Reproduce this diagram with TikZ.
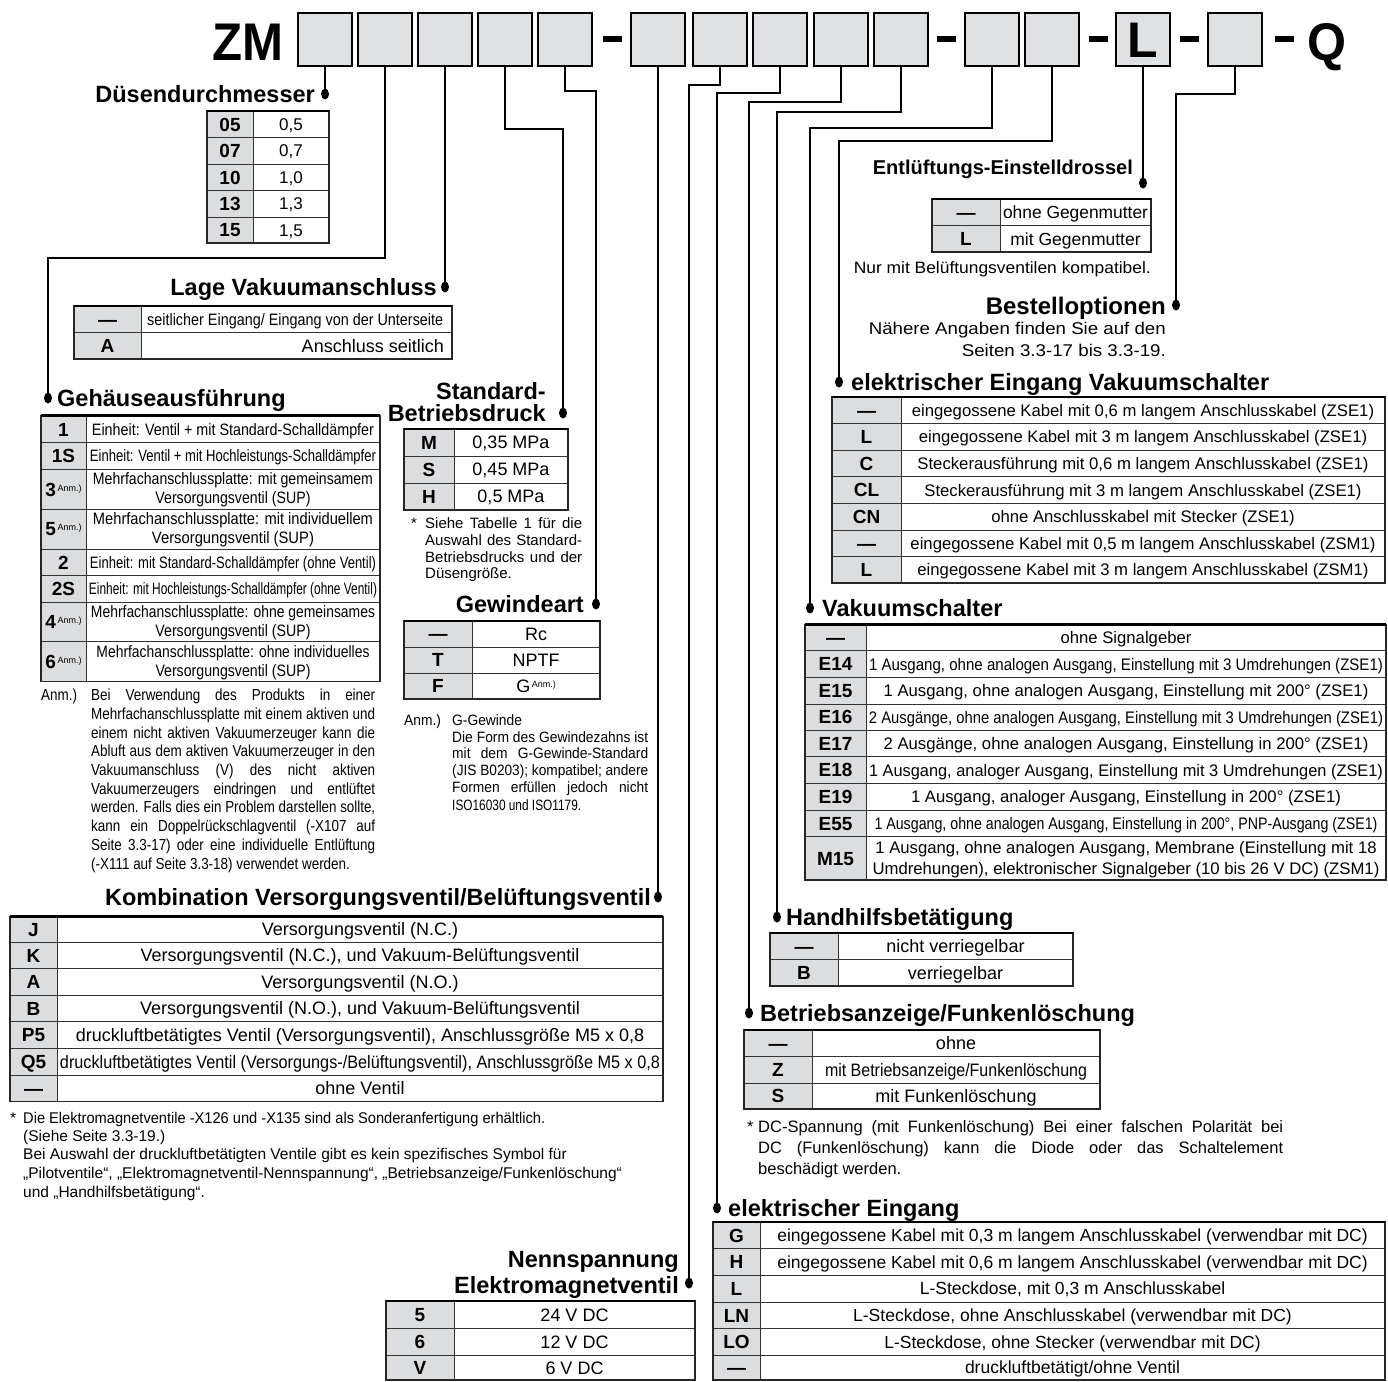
\documentclass[tikz,border=0pt]{standalone}
\usepackage{fontspec}
\setmainfont{Liberation Sans}
\newfontfamily\condf[FakeStretch=0.84]{Liberation Sans}
\newfontfamily\semif[FakeStretch=0.92]{Liberation Sans}
\usepackage{graphicx}
\usetikzlibrary{shapes.geometric}
\definecolor{keyfill}{HTML}{DCDDDF}
\definecolor{boxgray}{HTML}{E0E1E3}
\newcommand\fs[1]{\fontsize{#1}{#1}\selectfont}
\newcommand\vfs{17}
\newcommand\kfs{19}
\newcommand\nfs{15}
\newcommand\nff{}
\newcommand\fitw[2]{\setbox0=\hbox{#2}\ifdim\wd0>#1pt\relax\resizebox{#1pt}{\height}{#2}\else\box0\fi}
\newcommand\exw[2]{\resizebox{#1pt}{\height}{#2}}
\newcommand\jline[2]{\setbox0=\hbox{#2}\ifdim\wd0>#1pt\relax\resizebox{#1pt}{\height}{#2}\else\makebox[#1pt][s]{#2}\fi}
\newcommand\anm{{\fs{9}\mdseries\,\raisebox{5pt}{Anm.)}}}
\newcommand\twol[3]{\begin{tabular}{@{}c@{}}#1\\[#3]#2\end{tabular}}
\tikzset{
  conn/.style={line width=2pt, draw=black},
  hbox/.style={draw=black, line width=2pt, fill=boxgray, minimum width=54pt, minimum height=53pt, inner sep=0pt},
  dotn/.style={ellipse, fill=black, minimum width=8pt, minimum height=11pt, inner sep=0pt},
  head/.style={font=\fs{23.5}\bfseries, inner sep=0pt},
  keyt/.style={font=\fs{\kfs}\bfseries, inner sep=0pt, anchor=base},
  valt/.style={font=\fs{\vfs}, inner sep=0pt, anchor=base},
  notet/.style={font=\fs{\nfs}\nff, inner sep=0pt, anchor=base west},
  outer/.style={line width=1.5pt, draw=black!85},
  inner/.style={line width=0.9pt, draw=black!80},
  topl/.style={line width=2.6pt, draw=black},
}
% name, x1, xk, x2, ytop, ybot, key, value
\newcommand\trow[8]{%
  \fill[keyfill] (#2,#5) rectangle (#3,#6);
  \draw[inner] (#2,#5) -- (#4,#5);
  \node[keyt] (#1k) at ({(#2+#3)/2},{(#5+#6)/2+0.36*\kfs}) {#7};
  \pgfmathsetmacro\cw{#4-#3-6}%
  \node[valt] (#1v) at ({(#3+#4)/2},{(#5+#6)/2+0.36*\vfs}) {\fitw{\cw}{#8}};
}
% x1, xk, x2, ytop, ybot
\newcommand\tframe[5]{%
  \draw[outer] (#1,#4) rectangle (#3,#5);
  \draw[inner] (#2,#4) -- (#2,#5);
  \draw[topl] (#1,#4) -- (#3,#4);
}
% name, x, y(center), width, text  (justified line)
\newcommand\nline[5]{\node[notet] (#1) at (#2,{#3+0.36*\nfs}) {\jline{#4}{#5}};}
\newcommand\nlast[4]{\node[notet] (#1) at (#2,{#3+0.36*\nfs}) {#4};}
\newcommand\headE[4]{\node[head, anchor=base east] (#1) at (#2,{#3+8.5}) {#4};}
\newcommand\headW[4]{\node[head, anchor=base west] (#1) at (#2,{#3+8.5}) {#4};}

\begin{document}
\begin{tikzpicture}[x=1pt,y=-1pt]
\useasboundingbox (0,0) rectangle (1388,1381);

% ---------------- header ----------------
\node[anchor=base west, inner sep=0pt, font=\fs{53}\bfseries] (zm) at (212,60) {\exw{71}{ZM}};
\foreach \n/\x in {1/325,2/385,3/445,4/505,5/565,6/658,7/719.5,8/780,9/840.5,10/901,11/992,12/1052,13/1143,14/1235}
  \node[hbox] (b\n) at (\x,39.3) {};
\node[font=\fs{50}\bfseries, inner sep=0pt, anchor=base] (lt) at (1143,57) {L};
\node[font=\fs{53}\bfseries, inner sep=0pt, anchor=base west] (qt) at (1307,60) {\exw{39}{Q}};
\foreach \x in {612,946.5,1098,1189,1284}
  \fill (\x-9.5,36) rectangle (\x+9.5,42);

% ---------------- dots ----------------
\node[dotn] (d1) at (325,94) {};
\node[dotn] (d2) at (48,398) {};
\node[dotn] (d3) at (445,287) {};
\node[dotn] (d4) at (563,413) {};
\node[dotn] (d5) at (596,604) {};
\node[dotn] (d6) at (658,897) {};
\node[dotn] (d7) at (689,1283) {};
\node[dotn] (d8) at (717,1208) {};
\node[dotn] (d9) at (749,1013) {};
\node[dotn] (d10) at (777,917) {};
\node[dotn] (d11) at (810,608) {};
\node[dotn] (d12) at (839,382) {};
\node[dotn] (d13) at (1143,183) {};
\node[dotn] (d14) at (1176,305) {};

% ---------------- connectors ----------------
\coordinate (k2) at (48,258);
\coordinate (k4) at (563,129);
\coordinate (k5) at (596,91);
\coordinate (k7) at (689,85);
\coordinate (k8) at (717,93);
\coordinate (k9) at (749,102);
\coordinate (k10) at (777,112);
\coordinate (k11) at (810,128);
\coordinate (k12) at (839,141);
\coordinate (k14) at (1176,94);
\draw[conn] (b1.south) -- (d1.center);
\draw[conn] (b2.south) |- (k2) -- (d2.center);
\draw[conn] (b3.south) -- (d3.center);
\draw[conn] (b4.south) |- (k4) -- (d4.center);
\draw[conn] (b5.south) |- (k5) -- (d5.center);
\draw[conn] (b6.south) -- (d6.center);
\draw[conn] (b7.south) |- (k7) -- (d7.center);
\draw[conn] (b8.south) |- (k8) -- (d8.center);
\draw[conn] (b9.south) |- (k9) -- (d9.center);
\draw[conn] (b10.south) |- (k10) -- (d10.center);
\draw[conn] (b11.south) |- (k11) -- (d11.center);
\draw[conn] (b12.south) |- (k12) -- (d12.center);
\draw[conn] (b13.south) -- (d13.center);
\draw[conn] (b14.south) |- (k14) -- (d14.center);

% ---------------- Duesendurchmesser ----------------
\headE{h1}{315}{94}{Düsendurchmesser}
\renewcommand\vfs{17}
\trow{du1}{207}{253}{329}{111}{137.5}{05}{0,5}
\trow{du2}{207}{253}{329}{137.5}{164}{07}{0,7}
\trow{du3}{207}{253}{329}{164}{190.5}{10}{1,0}
\trow{du4}{207}{253}{329}{190.5}{217}{13}{1,3}
\trow{du5}{207}{253}{329}{217}{243}{15}{1,5}
\tframe{207}{253}{329}{111}{243}

% ---------------- Lage Vakuumanschluss ----------------
\headE{h3}{437}{287}{Lage Vakuumanschluss}
\trow{la1}{74}{141}{452}{306}{332.5}{—}{}
\trow{la2}{74}{141}{452}{332.5}{359}{A}{}
\node[valt, anchor=base west] (la1t) at (147,{319.2+6}) {\fs{16.5}\condf\exw{296}{seitlicher Eingang/ Eingang von der Unterseite}};
\node[valt, anchor=base east] (la2t) at (444,{345.7+6.5}) {\fs{18}Anschluss seitlich};
\tframe{74}{141}{452}{306}{359}

% ---------------- Gehaeuseausfuehrung ----------------
\headW{h2}{57}{398}{Gehäuseausführung}
\renewcommand\vfs{16.5}
\trow{ge1}{41}{86}{380}{415.7}{442.7}{1}{\exw{282}{Einheit: Ventil + mit Standard-Schalldämpfer}}
\trow{ge2}{41}{86}{380}{442.7}{469.3}{1S}{\exw{286}{Einheit: Ventil + mit Hochleistungs-Schalldämpfer}}
\trow{ge3}{41}{86}{380}{469.3}{509.3}{3\anm}{\twol{\exw{280}{Mehrfachanschlussplatte: mit gemeinsamem}}{\exw{155}{Versorgungsventil (SUP)}}{2pt}}
\trow{ge4}{41}{86}{380}{509.3}{549}{5\anm}{\twol{\exw{280}{Mehrfachanschlussplatte: mit individuellem}}{\exw{162}{Versorgungsventil (SUP)}}{2pt}}
\trow{ge5}{41}{86}{380}{549}{575.7}{2}{\exw{286}{Einheit: mit Standard-Schalldämpfer (ohne Ventil)}}
\trow{ge6}{41}{86}{380}{575.7}{602.3}{2S}{\exw{288}{Einheit: mit Hochleistungs-Schalldämpfer (ohne Ventil)}}
\trow{ge7}{41}{86}{380}{602.3}{641.7}{4\anm}{\twol{\exw{284}{Mehrfachanschlussplatte: ohne gemeinsames}}{\exw{155}{Versorgungsventil (SUP)}}{2pt}}
\trow{ge8}{41}{86}{380}{641.7}{681.7}{6\anm}{\twol{\exw{273}{Mehrfachanschlussplatte: ohne individuelles}}{\exw{155}{Versorgungsventil (SUP)}}{2pt}}
\tframe{41}{86}{380}{415.7}{681.7}
\renewcommand\nfs{16}
\renewcommand\nff{\condf}
\nlast{gn0}{41}{695}{Anm.)}
\nline{gn1}{91}{695}{284}{Bei Verwendung des Produkts in einer}
\nline{gn2}{91}{713.7}{284}{Mehrfachanschlussplatte mit einem aktiven und}
\nline{gn3}{91}{732.4}{284}{einem nicht aktiven Vakuumerzeuger kann die}
\nline{gn4}{91}{751.1}{284}{Abluft aus dem aktiven Vakuumerzeuger in den}
\nline{gn5}{91}{769.8}{284}{Vakuumanschluss (V) des nicht aktiven}
\nline{gn6}{91}{788.5}{284}{Vakuumerzeugers eindringen und entlüftet}
\nline{gn7}{91}{807.2}{284}{werden. Falls dies ein Problem darstellen sollte,}
\nline{gn8}{91}{825.9}{284}{kann ein Doppelrückschlagventil (-X107 auf}
\nline{gn9}{91}{844.6}{284}{Seite 3.3-17) oder eine individuelle Entlüftung}
\nlast{gn10}{91}{863.3}{(-X111 auf Seite 3.3-18) verwendet werden.}

% ---------------- Standard-Betriebsdruck ----------------
\headE{h4a}{546}{391}{Standard-}
\headE{h4b}{546}{413}{Betriebsdruck}
\renewcommand\vfs{18}
\trow{sb1}{404}{454}{568}{429}{456}{M}{0,35 MPa}
\trow{sb2}{404}{454}{568}{456}{483}{S}{0,45 MPa}
\trow{sb3}{404}{454}{568}{483}{510}{H}{0,5 MPa}
\tframe{404}{454}{568}{429}{510}
\renewcommand\nfs{15}
\renewcommand\nff{}
\nlast{sn0}{411}{523}{*}
\nline{sn1}{425}{523}{157}{Siehe Tabelle 1 für die}
\nline{sn2}{425}{540}{157}{Auswahl des Standard-}
\nline{sn3}{425}{557}{157}{Betriebsdrucks und der}
\nlast{sn4}{425}{573}{Düsengröße.}

% ---------------- Gewindeart ----------------
\headE{h5}{584}{604}{Gewindeart}
\trow{gw1}{404}{472}{600}{621}{647}{—}{Rc}
\trow{gw2}{404}{472}{600}{647}{673}{T}{NPTF}
\trow{gw3}{404}{472}{600}{673}{699}{F}{G\anm}
\tframe{404}{472}{600}{621}{699}
\renewcommand\nfs{15}
\renewcommand\nff{\semif}
\nlast{wn0}{404}{720}{Anm.)}
\nlast{wn1}{452}{720}{G-Gewinde}
\nline{wn2}{452}{737}{196}{Die Form des Gewindezahns ist}
\nline{wn3}{452}{753.5}{196}{mit dem G-Gewinde-Standard}
\nline{wn4}{452}{770.5}{196}{(JIS B0203); kompatibel; andere}
\nline{wn5}{452}{787}{196}{Formen erfüllen jedoch nicht}
\nlast{wn6}{452}{805}{\fitw{129}{ISO16030 und ISO1179.}}

% ---------------- Kombination ----------------
\headE{h6}{651}{897}{Kombination Versorgungsventil/Belüftungsventil}
\renewcommand\vfs{18}
\trow{ko1}{10}{57}{663}{916.7}{942.3}{J}{Versorgungsventil (N.C.)}
\trow{ko2}{10}{57}{663}{942.3}{968.3}{K}{Versorgungsventil (N.C.), und Vakuum-Belüftungsventil}
\trow{ko3}{10}{57}{663}{968.3}{995}{A}{Versorgungsventil (N.O.)}
\trow{ko4}{10}{57}{663}{995}{1021.7}{B}{Versorgungsventil (N.O.), und Vakuum-Belüftungsventil}
\trow{ko5}{10}{57}{663}{1021.7}{1048.3}{P5}{druckluftbetätigtes Ventil (Versorgungsventil), Anschlussgröße M5 x 0,8}
\trow{ko6}{10}{57}{663}{1048.3}{1075}{Q5}{druckluftbetätigtes Ventil (Versorgungs-/Belüftungsventil), Anschlussgröße M5 x 0,8}
\trow{ko7}{10}{57}{663}{1075}{1101.7}{—}{ohne Ventil}
\tframe{10}{57}{663}{916.7}{1101.7}
\renewcommand\nfs{15.5}
\renewcommand\nff{}
\nlast{kn0}{10}{1118}{*}
\nlast{kn1}{23}{1118}{\fitw{522}{Die Elektromagnetventile -X126 und -X135 sind als Sonderanfertigung erhältlich.}}
\nlast{kn2}{23}{1136}{(Siehe Seite 3.3-19.)}
\nlast{kn3}{23}{1154}{\fitw{564}{Bei Auswahl der druckluftbetätigten Ventile gibt es kein spezifisches Symbol für}}
\nlast{kn4}{23}{1173}{\fitw{616}{„Pilotventile“, „Elektromagnetventil-Nennspannung“, „Betriebsanzeige/Funkenlöschung“}}
\nlast{kn5}{23}{1192}{und „Handhilfsbetätigung“.}

% ---------------- Nennspannung ----------------
\headE{h7a}{679}{1259}{Nennspannung}
\headE{h7b}{679}{1285}{Elektromagnetventil}
\renewcommand\vfs{18}
\trow{ns1}{386}{454}{695}{1301}{1328}{5}{24 V DC}
\trow{ns2}{386}{454}{695}{1328}{1355}{6}{12 V DC}
\trow{ns3}{386}{454}{695}{1355}{1380}{V}{6 V DC}
\tframe{386}{454}{695}{1301}{1380}

% ---------------- Entlueftungs-Einstelldrossel ----------------
\node[font=\fs{20}\bfseries, inner sep=0pt, anchor=base east] (h13) at (1133,{167+7.2}) {Entlüftungs-Einstelldrossel};
\renewcommand\vfs{17.5}
\trow{en1}{932}{1000}{1151}{199}{225.5}{—}{ohne Gegenmutter}
\trow{en2}{932}{1000}{1151}{225.5}{252}{L}{mit Gegenmutter}
\tframe{932}{1000}{1151}{199}{252}
\node[valt, anchor=base east] (enn) at (1151,{267+6}) {\fs{16.5}\exw{297}{Nur mit Belüftungsventilen kompatibel.}};

% ---------------- Bestelloptionen ----------------
\node[font=\fs{24}\bfseries, inner sep=0pt, anchor=base east] (h14) at (1166,{306+8.6}) {Bestelloptionen};
\node[valt, anchor=base east] (bo1) at (1166,{328+6.1}) {\fs{17}\exw{297}{Nähere Angaben finden Sie auf den}};
\node[valt, anchor=base east] (bo2) at (1166,{350+6.1}) {\fs{17}\exw{204}{Seiten 3.3-17 bis 3.3-19.}};

% ---------------- elektrischer Eingang Vakuumschalter ----------------
\headW{h12}{851}{382}{elektrischer Eingang Vakuumschalter}
\renewcommand\vfs{16.7}
\trow{ev1}{832}{901}{1385}{397}{423.6}{—}{eingegossene Kabel mit 0,6 m langem Anschlusskabel (ZSE1)}
\trow{ev2}{832}{901}{1385}{423.6}{450.2}{L}{eingegossene Kabel mit 3 m langem Anschlusskabel (ZSE1)}
\trow{ev3}{832}{901}{1385}{450.2}{476.8}{C}{Steckerausführung mit 0,6 m langem Anschlusskabel (ZSE1)}
\trow{ev4}{832}{901}{1385}{476.8}{503.4}{CL}{Steckerausführung mit 3 m langem Anschlusskabel (ZSE1)}
\trow{ev5}{832}{901}{1385}{503.4}{530}{CN}{ohne Anschlusskabel mit Stecker (ZSE1)}
\trow{ev6}{832}{901}{1385}{530}{556.6}{—}{eingegossene Kabel mit 0,5 m langem Anschlusskabel (ZSM1)}
\trow{ev7}{832}{901}{1385}{556.6}{583.2}{L}{eingegossene Kabel mit 3 m langem Anschlusskabel (ZSM1)}
\tframe{832}{901}{1385}{397}{583.2}

% ---------------- Vakuumschalter ----------------
\headW{h11}{822}{608}{Vakuumschalter}
\renewcommand\vfs{16.7}
\trow{vs1}{805}{866}{1386}{624.3}{650.7}{—}{ohne Signalgeber}
\trow{vs2}{805}{866}{1386}{650.7}{677.3}{E14}{\exw{516}{1 Ausgang, ohne analogen Ausgang, Einstellung mit 3 Umdrehungen (ZSE1)}}
\trow{vs3}{805}{866}{1386}{677.3}{704}{E15}{1 Ausgang, ohne analogen Ausgang, Einstellung mit 200° (ZSE1)}
\trow{vs4}{805}{866}{1386}{704}{730}{E16}{\exw{516}{2 Ausgänge, ohne analogen Ausgang, Einstellung mit 3 Umdrehungen (ZSE1)}}
\trow{vs5}{805}{866}{1386}{730}{756.7}{E17}{2 Ausgänge, ohne analogen Ausgang, Einstellung in 200° (ZSE1)}
\trow{vs6}{805}{866}{1386}{756.7}{783.3}{E18}{1 Ausgang, analoger Ausgang, Einstellung mit 3 Umdrehungen (ZSE1)}
\trow{vs7}{805}{866}{1386}{783.3}{810}{E19}{1 Ausgang, analoger Ausgang, Einstellung in 200° (ZSE1)}
\trow{vs8}{805}{866}{1386}{810}{836.7}{E55}{\exw{503}{1 Ausgang, ohne analogen Ausgang, Einstellung in 200°, PNP-Ausgang (ZSE1)}}
\trow{vs9}{805}{866}{1386}{836.7}{880}{M15}{\twol{1 Ausgang, ohne analogen Ausgang, Membrane (Einstellung mit 18}{Umdrehungen), elektronischer Signalgeber (10 bis 26 V DC) (ZSM1)}{4pt}}
\tframe{805}{866}{1386}{624.3}{880}

% ---------------- Handhilfsbetaetigung ----------------
\headW{h10}{786}{917}{Handhilfsbetätigung}
\renewcommand\vfs{18}
\trow{hh1}{770}{838}{1073}{933}{959.5}{—}{nicht verriegelbar}
\trow{hh2}{770}{838}{1073}{959.5}{986}{B}{verriegelbar}
\tframe{770}{838}{1073}{933}{986}

% ---------------- Betriebsanzeige ----------------
\headW{h9}{760}{1013}{Betriebsanzeige/Funkenlöschung}
\trow{ba1}{744}{812}{1100}{1030}{1056.5}{—}{ohne}
\trow{ba2}{744}{812}{1100}{1056.5}{1083}{Z}{\exw{262}{mit Betriebsanzeige/Funkenlöschung}}
\trow{ba3}{744}{812}{1100}{1083}{1109}{S}{mit Funkenlöschung}
\tframe{744}{812}{1100}{1030}{1109}
\renewcommand\nfs{16.5}
\renewcommand\nff{}
\nlast{bn0}{747}{1127}{*}
\nline{bn1}{758}{1127}{525}{DC-Spannung (mit Funkenlöschung) Bei einer falschen Polarität bei}
\nline{bn2}{758}{1148}{525}{DC (Funkenlöschung) kann die Diode oder das Schaltelement}
\nlast{bn3}{758}{1169}{beschädigt werden.}

% ---------------- elektrischer Eingang ----------------
\headW{h8}{728}{1208}{elektrischer Eingang}
\renewcommand\vfs{17.5}
\trow{ee1}{713}{760}{1385}{1222}{1248.7}{G}{eingegossene Kabel mit 0,3 m langem Anschlusskabel (verwendbar mit DC)}
\trow{ee2}{713}{760}{1385}{1248.7}{1275.3}{H}{eingegossene Kabel mit 0,6 m langem Anschlusskabel (verwendbar mit DC)}
\trow{ee3}{713}{760}{1385}{1275.3}{1302}{L}{L-Steckdose, mit 0,3 m Anschlusskabel}
\trow{ee4}{713}{760}{1385}{1302}{1328.7}{LN}{L-Steckdose, ohne Anschlusskabel (verwendbar mit DC)}
\trow{ee5}{713}{760}{1385}{1328.7}{1355.3}{LO}{L-Steckdose, ohne Stecker (verwendbar mit DC)}
\trow{ee6}{713}{760}{1385}{1355.3}{1380}{—}{druckluftbetätigt/ohne Ventil}
\tframe{713}{760}{1385}{1222}{1380}

\end{tikzpicture}
\end{document}
